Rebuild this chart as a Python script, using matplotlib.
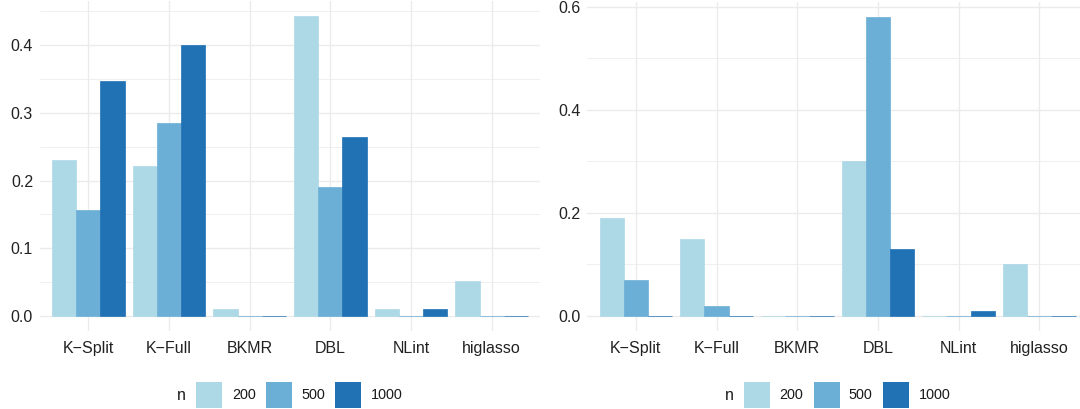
import numpy as np
import matplotlib
matplotlib.use("Agg")
import matplotlib.pyplot as plt
from matplotlib.patches import Rectangle

plt.rcParams['font.family'] = ['Liberation Sans', 'DejaVu Sans']

# Data
methods = ["K\u2212Split", "K\u2212Full", "BKMR", "DBL", "NLint", "higlasso"]
sizes = ["200", "500", "1000"]

left_n200 = [0.231, 0.221, 0.011, 0.443, 0.011, 0.052]
left_n500 = [0.157, 0.285, 0.0, 0.190, 0.0, 0.0]
left_n1000 = [0.347, 0.400, 0.0, 0.264, 0.011, 0.0]

right_n200 = [0.19, 0.15, 0.0, 0.30, 0.0, 0.10]
right_n500 = [0.07, 0.02, 0.0, 0.58, 0.0, 0.0]
right_n1000 = [0.0, 0.0, 0.0, 0.13, 0.01, 0.0]

colors = ["#ADD8E6", "#6BAED6", "#2171B5"]

W, H = 1080, 409
fig = plt.figure(figsize=(W / 100, H / 100), dpi=100)
fig.patch.set_facecolor("white")

GRID = "#EBEBEB"
TICK_COL = "#222222"


def px_axes(x0, x1, ytop, ybot):
    return fig.add_axes([x0 / W, 1 - ybot / H, (x1 - x0) / W, (ybot - ytop) / H])


def draw_panel(ax, series, major, minor, labels):
    x = np.arange(len(methods))
    width = 0.3
    for i, (vals, col) in enumerate(zip(series, colors)):
        ax.bar(x + (i - 1) * width, vals, width=width, color=col,
               edgecolor=col, linewidth=0.5, zorder=3)
    ymax = max(max(s) for s in series)
    ax.set_ylim(-0.05 * ymax, 1.05 * ymax)
    ax.set_xlim(-0.6, len(methods) - 0.4)
    ax.set_xticks(x)
    ax.set_xticklabels(methods)
    ax.set_yticks(major)
    ax.set_yticklabels(labels)
    ax.set_yticks(minor, minor=True)
    ax.grid(True, which="major", color=GRID, linewidth=1.0, zorder=0)
    ax.grid(True, which="minor", axis="y", color=GRID, linewidth=0.55, zorder=0)
    ax.set_axisbelow(True)
    for s in ax.spines.values():
        s.set_visible(False)
    ax.tick_params(which="both", length=0)
    ax.tick_params(axis="y", labelsize=11.5, labelcolor=TICK_COL, pad=5)
    ax.tick_params(axis="x", labelsize=11.5, labelcolor=TICK_COL, pad=7)
    ax.set_facecolor("white")


def draw_legend(center):
    ky0, ky1 = 382, 408
    yc = (ky0 + ky1) / 2
    fig.text((center - 113) / W, 1 - yc / H, "n", ha="left", va="center",
             fontsize=11.5, color="#1A1A1A")
    key_starts = [-94, -24, 45]
    text_starts = [-58, 11, 81]
    for ks, ts, col, lab in zip(key_starts, text_starts, colors, sizes):
        fig.add_artist(Rectangle(((center + ks) / W, 1 - ky1 / H), 26 / W,
                                 (ky1 - ky0) / H, transform=fig.transFigure,
                                 facecolor=col, edgecolor="none"))
        fig.text((center + ts) / W, 1 - yc / H, lab, ha="left", va="center",
                 fontsize=10.4, color="#1A1A1A")


# Left panel
axL = px_axes(40, 540, 0.9, 331)
draw_panel(axL, [left_n200, left_n500, left_n1000],
           [0.0, 0.1, 0.2, 0.3, 0.4], [0.05, 0.15, 0.25, 0.35, 0.45],
           ["0.0", "0.1", "0.2", "0.3", "0.4"])
draw_legend(290)

# Right panel
axR = px_axes(587.4, 1087.7, 2.0, 331)
draw_panel(axR, [right_n200, right_n500, right_n1000],
           [0.0, 0.2, 0.4, 0.6], [0.1, 0.3, 0.5],
           ["0.0", "0.2", "0.4", "0.6"])
draw_legend(837.5)

fig.savefig("out.png", dpi=100, facecolor="white")
